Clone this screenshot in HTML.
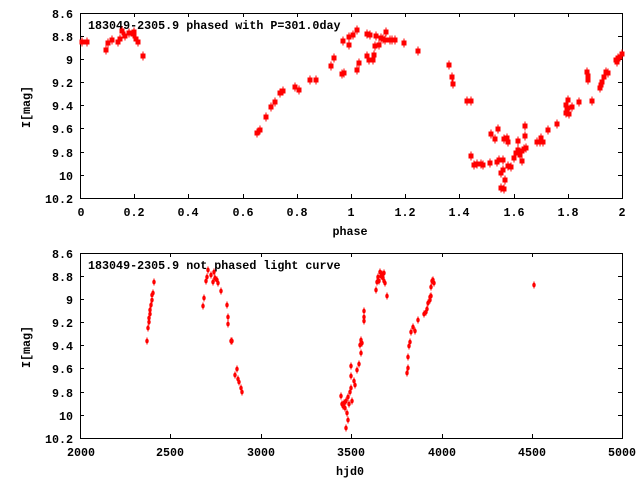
<!DOCTYPE html>
<html><head><style>
body{margin:0;background:#fff}
text{font-family:"Liberation Mono",monospace;font-weight:bold;font-size:11.7px;fill:#000}
</style></head><body>
<svg width="640" height="480" viewBox="0 0 640 480" xmlns="http://www.w3.org/2000/svg">
<defs>
<g id="s"><rect x="-2.5" y="-2.5" width="5" height="5" fill="#f00"/><rect x="-0.5" y="-4.5" width="1" height="9" fill="#f00"/></g>
<g id="e"><ellipse cx="0" cy="0" rx="1.7" ry="2.3" fill="#f00"/><rect x="-0.5" y="-3.5" width="1" height="7" fill="#f00"/></g>
</defs>
<g id="top">
<rect x="80.5" y="13.5" width="542" height="185" fill="none" stroke="#000"/>
<g stroke="#000">
<path d="M80 36.5h4M622 36.5h-4M80 59.5h4M622 59.5h-4M80 82.5h4M622 82.5h-4M80 105.5h4M622 105.5h-4M80 128.5h4M622 128.5h-4M80 152.5h4M622 152.5h-4M80 175.5h4M622 175.5h-4"/>
<path d="M134.5 198v-4M134.5 13v4M188.5 198v-4M188.5 13v4M243.5 198v-4M243.5 13v4M297.5 198v-4M297.5 13v4M351.5 198v-4M351.5 13v4M405.5 198v-4M405.5 13v4M459.5 198v-4M459.5 13v4M514.5 198v-4M514.5 13v4M568.5 198v-4M568.5 13v4"/>
</g>
<g text-anchor="end">
<text x="73" y="18">8.6</text><text x="73" y="41">8.8</text><text x="73" y="64">9</text><text x="73" y="87">9.2</text><text x="73" y="110">9.4</text><text x="73" y="133">9.6</text><text x="73" y="157">9.8</text><text x="73" y="180">10</text><text x="73" y="203">10.2</text>
</g>
<g text-anchor="middle">
<text x="81" y="216">0</text><text x="134" y="216">0.2</text><text x="188" y="216">0.4</text><text x="243" y="216">0.6</text><text x="297" y="216">0.8</text><text x="351" y="216">1</text><text x="405" y="216">1.2</text><text x="459" y="216">1.4</text><text x="514" y="216">1.6</text><text x="568" y="216">1.8</text><text x="622" y="216">2</text>
<text x="350" y="235">phase</text>
<text transform="translate(30,107) rotate(-90)">I[mag]</text>
</g>
<text x="88" y="29">183049-2305.9 phased with P=301.0day</text>
<g id="tp">
<use href="#s" x="82" y="42"/><use href="#s" x="87" y="42"/><use href="#s" x="106" y="50"/><use href="#s" x="108" y="43"/><use href="#s" x="112" y="40"/><use href="#s" x="118" y="42"/><use href="#s" x="120" y="39"/><use href="#s" x="122" y="31"/><use href="#s" x="125" y="36"/><use href="#s" x="129" y="33"/><use href="#s" x="133" y="34"/><use href="#s" x="134" y="32"/><use href="#s" x="136" y="39"/><use href="#s" x="138" y="42"/><use href="#s" x="143" y="56"/>
<use href="#s" x="257" y="133"/><use href="#s" x="260" y="130"/><use href="#s" x="266" y="117"/><use href="#s" x="271" y="107"/><use href="#s" x="275" y="102"/><use href="#s" x="280" y="93"/><use href="#s" x="283" y="91"/><use href="#s" x="295" y="87"/><use href="#s" x="299" y="90"/><use href="#s" x="310" y="80"/><use href="#s" x="316" y="80"/><use href="#s" x="331" y="66"/><use href="#s" x="334" y="58"/>
<use href="#s" x="342" y="74"/><use href="#s" x="344" y="73"/><use href="#s" x="343" y="41"/><use href="#s" x="349" y="37"/><use href="#s" x="349" y="45"/><use href="#s" x="353" y="35"/><use href="#s" x="357" y="30"/><use href="#s" x="357" y="70"/><use href="#s" x="359" y="63"/><use href="#s" x="367" y="34"/><use href="#s" x="370" y="35"/><use href="#s" x="367" y="56"/><use href="#s" x="369" y="60"/><use href="#s" x="373" y="60"/><use href="#s" x="374" y="55"/><use href="#s" x="376" y="36"/><use href="#s" x="375" y="46"/><use href="#s" x="379" y="45"/><use href="#s" x="381" y="38"/><use href="#s" x="383" y="39"/><use href="#s" x="385" y="40"/><use href="#s" x="386" y="32"/><use href="#s" x="390" y="40"/><use href="#s" x="392" y="40"/><use href="#s" x="395" y="40"/><use href="#s" x="404" y="43"/><use href="#s" x="418" y="51"/>
<use href="#s" x="449" y="65"/><use href="#s" x="452" y="77"/><use href="#s" x="453" y="84"/><use href="#s" x="467" y="101"/><use href="#s" x="471" y="101"/><use href="#s" x="471" y="156"/><use href="#s" x="474" y="165"/><use href="#s" x="477" y="164"/><use href="#s" x="481" y="164"/><use href="#s" x="483" y="165"/><use href="#s" x="490" y="163"/><use href="#s" x="497" y="162"/><use href="#s" x="491" y="134"/><use href="#s" x="495" y="139"/><use href="#s" x="499" y="160"/><use href="#s" x="503" y="160"/><use href="#s" x="498" y="129"/><use href="#s" x="501" y="173"/><use href="#s" x="503" y="170"/><use href="#s" x="505" y="180"/><use href="#s" x="501" y="188"/><use href="#s" x="504" y="189"/><use href="#s" x="504" y="139"/><use href="#s" x="507" y="138"/><use href="#s" x="508" y="142"/><use href="#s" x="508" y="166"/><use href="#s" x="511" y="167"/><use href="#s" x="514" y="158"/><use href="#s" x="516" y="153"/><use href="#s" x="518" y="150"/><use href="#s" x="518" y="141"/><use href="#s" x="520" y="155"/><use href="#s" x="522" y="151"/><use href="#s" x="522" y="161"/><use href="#s" x="524" y="149"/><use href="#s" x="525" y="126"/><use href="#s" x="525" y="136"/><use href="#s" x="526" y="148"/>
<use href="#s" x="537" y="142"/><use href="#s" x="540" y="142"/><use href="#s" x="541" y="138"/><use href="#s" x="543" y="142"/><use href="#s" x="548" y="130"/><use href="#s" x="557" y="124"/><use href="#s" x="566" y="105"/><use href="#s" x="567" y="110"/><use href="#s" x="566" y="113"/><use href="#s" x="568" y="108"/><use href="#s" x="568" y="100"/><use href="#s" x="569" y="114"/><use href="#s" x="572" y="107"/><use href="#s" x="579" y="102"/><use href="#s" x="587" y="72"/><use href="#s" x="588" y="76"/><use href="#s" x="588" y="80"/><use href="#s" x="592" y="101"/><use href="#s" x="600" y="88"/><use href="#s" x="601" y="85"/><use href="#s" x="602" y="82"/><use href="#s" x="604" y="77"/><use href="#s" x="606" y="72"/><use href="#s" x="608" y="73"/><use href="#s" x="616" y="60"/><use href="#s" x="617" y="62"/><use href="#s" x="618" y="58"/><use href="#s" x="620" y="57"/><use href="#s" x="622" y="54"/>
</g>
</g>
<g id="bot">
<rect x="80.5" y="253.5" width="542" height="185" fill="none" stroke="#000"/>
<g stroke="#000">
<path d="M80 276.5h4M622 276.5h-4M80 299.5h4M622 299.5h-4M80 322.5h4M622 322.5h-4M80 345.5h4M622 345.5h-4M80 368.5h4M622 368.5h-4M80 392.5h4M622 392.5h-4M80 415.5h4M622 415.5h-4"/>
<path d="M170.5 438v-4M170.5 253v4M261.5 438v-4M261.5 253v4M351.5 438v-4M351.5 253v4M442.5 438v-4M442.5 253v4M532.5 438v-4M532.5 253v4"/>
</g>
<g text-anchor="end">
<text x="73" y="258">8.6</text><text x="73" y="281">8.8</text><text x="73" y="304">9</text><text x="73" y="327">9.2</text><text x="73" y="350">9.4</text><text x="73" y="373">9.6</text><text x="73" y="397">9.8</text><text x="73" y="420">10</text><text x="73" y="443">10.2</text>
</g>
<g text-anchor="middle">
<text x="81" y="456">2000</text><text x="170" y="456">2500</text><text x="261" y="456">3000</text><text x="351" y="456">3500</text><text x="442" y="456">4000</text><text x="532" y="456">4500</text><text x="622" y="456">5000</text>
<text x="350" y="475">hjd0</text>
<text transform="translate(30,347) rotate(-90)">I[mag]</text>
</g>
<text x="88" y="269">183049-2305.9 not phased light curve</text>
<g>
<use href="#e" x="147" y="341"/><use href="#e" x="148" y="328"/><use href="#e" x="149" y="322"/><use href="#e" x="149" y="318"/><use href="#e" x="150" y="314"/><use href="#e" x="150" y="310"/><use href="#e" x="151" y="305"/><use href="#e" x="152" y="300"/><use href="#e" x="152" y="295"/><use href="#e" x="153" y="293"/><use href="#e" x="154" y="282"/>
<use href="#e" x="203" y="306"/><use href="#e" x="204" y="298"/><use href="#e" x="206" y="281"/><use href="#e" x="207" y="277"/><use href="#e" x="208" y="270"/><use href="#e" x="211" y="275"/><use href="#e" x="213" y="282"/><use href="#e" x="214" y="272"/><use href="#e" x="215" y="278"/><use href="#e" x="217" y="280"/><use href="#e" x="218" y="283"/><use href="#e" x="221" y="291"/><use href="#e" x="227" y="305"/><use href="#e" x="228" y="317"/><use href="#e" x="228" y="324"/><use href="#e" x="231" y="341"/><use href="#e" x="232" y="341"/><use href="#e" x="235" y="375"/><use href="#e" x="237" y="369"/><use href="#e" x="238" y="379"/><use href="#e" x="239" y="382"/><use href="#e" x="241" y="388"/><use href="#e" x="242" y="392"/>
<use href="#e" x="341" y="396"/><use href="#e" x="342" y="404"/><use href="#e" x="343" y="406"/><use href="#e" x="344" y="403"/><use href="#e" x="345" y="408"/><use href="#e" x="346" y="401"/><use href="#e" x="346" y="428"/><use href="#e" x="347" y="413"/><use href="#e" x="348" y="420"/><use href="#e" x="348" y="397"/><use href="#e" x="349" y="404"/><use href="#e" x="350" y="392"/><use href="#e" x="351" y="388"/><use href="#e" x="351" y="366"/><use href="#e" x="351" y="376"/><use href="#e" x="352" y="401"/><use href="#e" x="354" y="381"/><use href="#e" x="355" y="385"/><use href="#e" x="357" y="370"/><use href="#e" x="359" y="364"/><use href="#e" x="360" y="345"/><use href="#e" x="361" y="353"/><use href="#e" x="361" y="340"/><use href="#e" x="362" y="343"/><use href="#e" x="364" y="311"/><use href="#e" x="364" y="317"/><use href="#e" x="364" y="321"/>
<use href="#e" x="376" y="290"/><use href="#e" x="377" y="282"/><use href="#e" x="378" y="277"/><use href="#e" x="379" y="281"/><use href="#e" x="380" y="272"/><use href="#e" x="381" y="276"/><use href="#e" x="382" y="274"/><use href="#e" x="383" y="278"/><use href="#e" x="384" y="281"/><use href="#e" x="384" y="273"/><use href="#e" x="385" y="283"/><use href="#e" x="387" y="296"/>
<use href="#e" x="407" y="373"/><use href="#e" x="408" y="368"/><use href="#e" x="408" y="357"/><use href="#e" x="409" y="346"/><use href="#e" x="410" y="342"/><use href="#e" x="411" y="332"/><use href="#e" x="413" y="327"/><use href="#e" x="415" y="331"/><use href="#e" x="418" y="320"/><use href="#e" x="424" y="314"/><use href="#e" x="426" y="312"/><use href="#e" x="427" y="309"/><use href="#e" x="428" y="303"/><use href="#e" x="430" y="300"/><use href="#e" x="430" y="297"/><use href="#e" x="431" y="296"/><use href="#e" x="431" y="287"/><use href="#e" x="432" y="281"/><use href="#e" x="433" y="280"/><use href="#e" x="434" y="283"/><use href="#e" x="534" y="285"/>
</g>
</g>
</svg>
</body></html>
